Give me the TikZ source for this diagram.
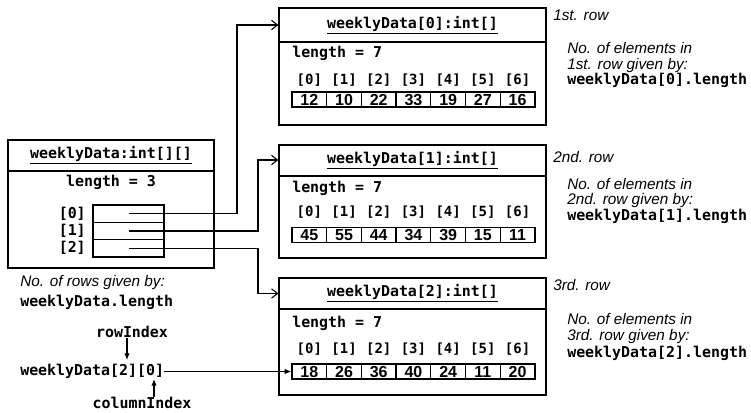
\documentclass[tikz,border=0pt]{standalone}
\usepackage{fontspec}
\setmainfont{Liberation Sans}
\setmonofont{DejaVu Sans Mono}
\usetikzlibrary{arrows.meta,calc}
\begin{document}
\begin{tikzpicture}[x=0.75pt,y=-0.75pt,
  box/.style={draw,line width=0.9pt,inner sep=0pt},
  mono/.style={font=\fontsize{11.2}{13}\selectfont\ttfamily\bfseries,inner sep=0pt},
  idx/.style={font=\fontsize{10.5}{12}\selectfont\ttfamily\bfseries,inner sep=0pt},
  note/.style={font=\fontsize{11.5}{11.6}\selectfont\itshape,inner sep=0pt,anchor=west,align=left},
  cell/.style={draw,line width=0.9pt,minimum width=26.03pt,minimum height=11.25pt,inner sep=0pt,font=\fontsize{12}{12}\selectfont\bfseries},
  conn/.style={line width=0.8pt,-{Straight Barb[length=4.5pt,width=7pt]}},
  ptr/.style={line width=0.8pt,-{Latex[length=5pt,width=4pt]}}
]
\useasboundingbox (0,0) rectangle (751,412);

% ---------- left array object ----------
\node[box,minimum width=154.5pt,minimum height=96pt] (bl) at (111,204) {};
\draw[line width=0.9pt] (bl.west |- 0,171) -- (bl.east |- 0,171);
\node[mono] (tl) at (111,155.5) {\underline{weeklyData:int[][]}};
\node[mono] (ll) at (111,182) {length = 3};
\node[box,minimum width=53.25pt,minimum height=13pt] (r0) at (128.5,213.7) {};
\node[box,minimum width=53.25pt,minimum height=13pt] (r1) at (128.5,231) {};
\node[box,minimum width=53.25pt,minimum height=13pt] (r2) at (128.5,248.3) {};
\node[mono,anchor=east] (lab0) at (86,213.7) {[0]};
\node[mono,anchor=east] (lab1) at (86,231) {[1]};
\node[mono,anchor=east] (lab2) at (86,248.3) {[2]};
\node[note] (nrows) at (20,283) {No. of rows given by:};
\node[mono,anchor=west] (nrowsc) at (20,302) {weeklyData.length};

% ---------- row objects ----------
% row 0
\node[box,minimum width=200.25pt,minimum height=87.75pt] (b0) at (412.5,66.5) {};
\draw[line width=0.9pt] (b0.west |- 0,42) -- (b0.east |- 0,42);
\node[mono] (t0) at (412.5,25) {\underline{weeklyData[0]:int[]}};
\node[mono,anchor=west] (len0) at (292,53) {length = 7};
\foreach \v [count=\i from 0] in {12,10,22,33,19,27,16} {
  \node[cell] (c0-\i) at ({292+34.7*(\i+0.5)},99.5) {\v};
  \node[idx] (i0-\i) at ({292+34.7*(\i+0.5)},80) {[\i]};
}
% row 1
\node[box,minimum width=200.25pt,minimum height=84.75pt] (b1) at (412.5,201.5) {};
\draw[line width=0.9pt] (b1.west |- 0,176) -- (b1.east |- 0,176);
\node[mono] (t1) at (412.5,160) {\underline{weeklyData[1]:int[]}};
\node[mono,anchor=west] (len1) at (292,188) {length = 7};
\foreach \v [count=\i from 0] in {45,55,44,34,39,15,11} {
  \node[cell] (c1-\i) at ({292+34.7*(\i+0.5)},235) {\v};
  \node[idx] (i1-\i) at ({292+34.7*(\i+0.5)},212) {[\i]};
}
% row 2
\node[box,minimum width=200.25pt,minimum height=87.75pt] (b2) at (412.5,336.5) {};
\draw[line width=0.9pt] (b2.west |- 0,309) -- (b2.east |- 0,309);
\node[mono] (t2) at (412.5,293.5) {\underline{weeklyData[2]:int[]}};
\node[mono,anchor=west] (len2) at (292,323) {length = 7};
\foreach \v [count=\i from 0] in {18,26,36,40,24,11,20} {
  \node[cell] (c2-\i) at ({292+34.7*(\i+0.5)},371.5) {\v};
  \node[idx] (i2-\i) at ({292+34.7*(\i+0.5)},349) {[\i]};
}

% ---------- notes on right ----------
\node[note] (rw0) at (553,15) {1st. row};
\node[note] (e0a) at (567,57.5) {No. of elements in\\1st. row given by:};
\node[mono,anchor=west] (e0c) at (567,80) {weeklyData[0].length};
\node[note] (rw1) at (553,157) {2nd. row};
\node[note] (e1a) at (567,193) {No. of elements in\\2nd. row given by:};
\node[mono,anchor=west] (e1c) at (567,216) {weeklyData[1].length};
\node[note] (rw2) at (553,285) {3rd. row};
\node[note] (e2a) at (567,328.5) {No. of elements in\\3rd. row given by:};
\node[mono,anchor=west] (e2c) at (567,353) {weeklyData[2].length};

% ---------- connectors ----------
\coordinate (k0) at (237,25);
\coordinate (k1) at (258,160);
\coordinate (k2) at (258,293.5);
\draw[conn] (r0.center) -| (k0) -- (b0.west |- t0);
\draw[conn] (r1.center) -| (k1) -- (b1.west |- t1);
\draw[conn] (r2.center) -| (k2) -- (b2.west |- t2);

% ---------- element access ----------
\node[mono,anchor=west] (acc) at (20,371.5) {weeklyData[2][0]};
\node[mono] (rowi) at (132,332) {rowIndex};
\node[mono] (coli) at (142,403) {columnIndex};
\coordinate (rtip) at (127,360);
\coordinate (ctip) at (154,379);
\draw[ptr] (rowi.south -| rtip) -- (rtip);
\draw[ptr] (coli.north -| ctip) -- (ctip);
\draw[ptr] (acc.east) -- (acc.east -| c2-0.west);
\end{tikzpicture}
\end{document}
